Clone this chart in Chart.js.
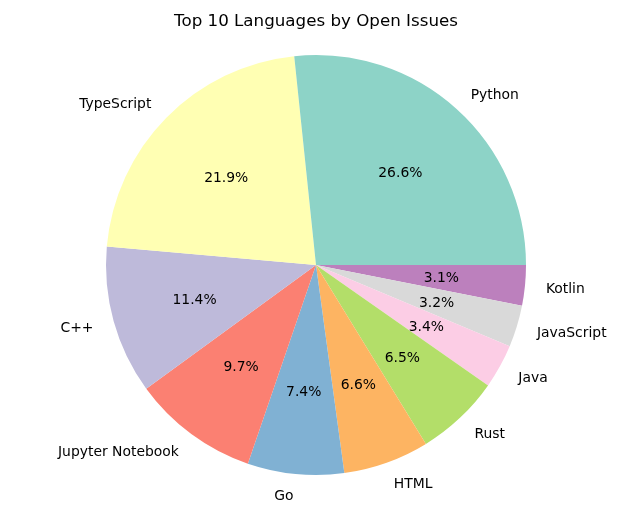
<!DOCTYPE html>
<html>
<head>
<meta charset="utf-8">
<script src="https://cdn.jsdelivr.net/npm/chart.js@4"></script>
<style>
  html, body { margin: 0; padding: 0; background: #fff; }
  #wrap { width: 643px; height: 519px; }
</style>
</head>
<body>
<div id="wrap"><canvas id="myChart" width="643" height="519"></canvas></div>
<script>
// data in matplotlib order (counterclockwise from 3 o'clock)
const languages = ['Python', 'TypeScript', 'C++', 'Jupyter Notebook', 'Go', 'HTML', 'Rust', 'Java', 'JavaScript', 'Kotlin']
const shares = [26.6, 21.9, 11.4, 9.7, 7.4, 6.6, 6.5, 3.4, 3.2, 3.1]
const colors = ['#8dd3c7', '#ffffb3', '#bebada', '#fb8072', '#80b1d3', '#fdb462', '#b3de69', '#fccde5', '#d9d9d9', '#bc80bd']
const chartTitle = 'Top 10 Languages by Open Issues'

// chart.js goes clockwise, so feed it reversed
const revLabels = languages.slice().reverse()
const revData = shares.slice().reverse()
const revColors = colors.slice().reverse()

const FONT = '"DejaVu Sans", sans-serif'

const pieText = {
    id: 'pieText',
    afterDraw(chart) {
        const c = chart.ctx
        const meta = chart.getDatasetMeta(0)
        c.save()
        c.fillStyle = '#000'
        c.font = '16.7px ' + FONT
        c.textAlign = 'center'
        c.textBaseline = 'alphabetic'
        c.fillText(chartTitle, 316, 26)

        c.font = '13.9px ' + FONT
        c.textBaseline = 'middle'
        meta.data.forEach((arc, i) => {
            const mid = (arc.startAngle + arc.endAngle) / 2
            const r = arc.outerRadius
            const cos = Math.cos(mid), sin = Math.sin(mid)
            // outer label
            const lx = arc.x + cos * r * 1.1
            const ly = arc.y + sin * r * 1.1 + 1.5
            c.textAlign = cos >= 0 ? 'left' : 'right'
            c.fillText(revLabels[i], lx, ly)
            // pct inside
            c.textAlign = 'center'
            c.fillText(revData[i].toFixed(1) + '%', arc.x + cos * r * 0.6, arc.y + sin * r * 0.6 + 1.5)
        })
        c.restore()
    }
}

const ctx = document.getElementById('myChart').getContext('2d')
const myChart = new Chart(ctx, {
    type: 'pie',
    data: {
        labels: revLabels,
        datasets: [{
            data: revData,
            backgroundColor: revColors,
            borderWidth: 0
        }]
    },
    options: {
        responsive: false,
        animation: false,
        rotation: 90,
        layout: { padding: { top: 55, bottom: 44, left: 0, right: 11 } },
        plugins: {
            legend: { display: false },
            tooltip: { enabled: false },
            title: { display: false }
        }
    },
    plugins: [pieText]
})
</script>
</body>
</html>
